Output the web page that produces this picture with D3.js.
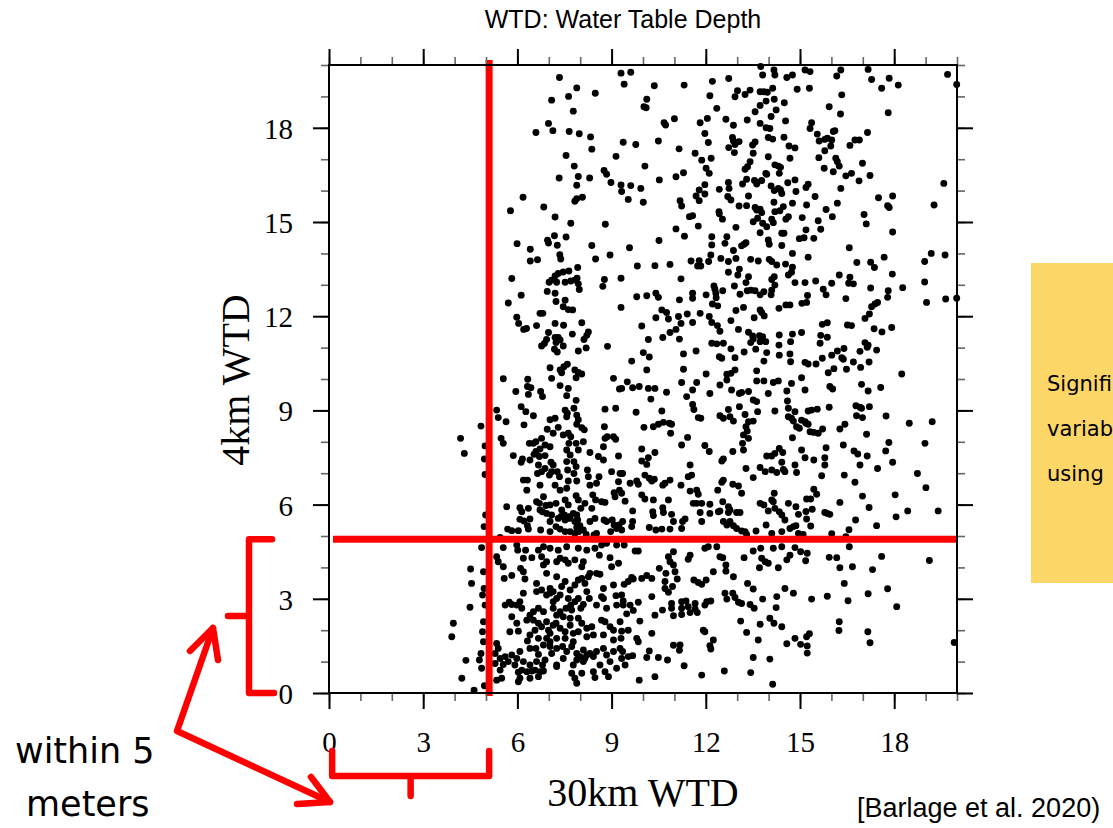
<!DOCTYPE html>
<html><head><meta charset="utf-8">
<script src="https://cdn.jsdelivr.net/npm/d3@7"></script>
<style>body{margin:0;background:#fff;overflow:hidden}svg{display:block}</style>
</head><body><svg id="c" width="1113" height="828"></svg>
<script>
// ---------------- data (30km WTD, 4km WTD) in metres ----------------
const majorTicks = [0, 3, 6, 9, 12, 15, 18];
const minorTicks = [0,1,2,3,4,5,6,7,8,9,10,11,12,13,14,15,16,17,18,19,20];
const cutoff30km = 5.1;
const cutoff4km = 4.9;
const bracketStart30km = 0.1;
const noteLines = ['Signifi', 'variab', 'using'];

const ptsUpperLeft = [[7.34,19.60],[7.89,19.27],[7.63,19.00],[7.09,18.88],[8.48,19.10],[7.78,18.53],[6.99,18.14],[6.59,17.85],[7.13,17.91],[7.65,17.88],[7.97,17.81],[8.33,17.71],[8.37,17.32],[7.55,17.12],[9.14,17.09],[7.81,16.78],[8.76,16.64],[8.84,16.52],[7.33,16.40],[7.94,16.45],[8.30,16.40],[7.89,16.17],[8.98,16.26],[8.07,15.79],[7.89,15.74],[7.83,15.66],[6.18,15.79],[5.78,15.36],[6.84,15.48],[7.20,15.16],[7.70,14.96],[8.80,14.93],[7.18,14.56],[6.96,14.42],[6.99,14.33],[7.55,14.52],[5.99,14.31],[7.27,14.26],[6.41,14.13],[8.37,14.25],[7.35,13.96],[7.38,13.82],[6.41,13.76],[6.64,13.80],[8.49,13.82],[8.95,13.95],[7.92,13.55],[7.30,13.36],[7.46,13.41],[7.64,13.44],[7.20,13.28],[7.09,13.15],[7.01,13.08],[7.25,13.08],[7.52,13.08],[7.70,13.12],[7.83,13.15],[7.90,13.21],[7.94,13.03],[7.97,12.85],[5.82,13.20],[8.77,13.17],[8.72,12.95],[6.12,12.67],[5.71,12.42],[6.95,12.79],[7.20,12.73],[7.52,12.51],[7.23,12.47],[7.46,12.30],[7.62,12.21],[7.76,12.20],[6.72,12.09],[6.81,12.09],[5.98,11.97],[6.04,11.77],[6.20,11.58],[6.29,11.61],[6.61,11.70],[7.20,11.77],[7.47,11.71],[8.05,11.79],[7.75,11.43],[6.99,11.48],[6.93,11.26],[7.20,11.32],[7.30,11.32],[7.36,11.24],[7.23,11.16],[6.77,11.05],[6.86,11.13],[7.46,11.05],[7.18,10.95],[7.27,10.86],[7.94,10.89],[8.19,10.99],[8.12,11.26],[8.21,11.39],[8.26,11.50],[8.87,11.04],[7.04,10.36],[7.36,10.29],[7.48,10.39],[7.59,10.47],[7.41,10.20],[7.83,10.29],[7.94,10.21],[8.05,10.16],[5.55,10.01],[6.33,9.99],[7.09,10.02],[7.87,10.04],[9.06,10.02]];

const ptsUpperMid = [[9.30,19.74],[9.61,19.77],[9.40,19.39],[10.36,19.34],[11.31,19.36],[12.21,19.48],[12.73,19.57],[13.75,19.95],[13.81,19.68],[14.17,19.84],[14.20,19.68],[14.58,19.60],[13.01,19.18],[12.93,18.99],[13.25,19.06],[13.41,19.20],[13.73,19.15],[13.85,19.15],[13.96,19.13],[14.13,19.26],[12.13,19.02],[10.12,18.91],[10.03,18.67],[10.10,18.64],[13.92,18.85],[14.18,18.91],[14.50,18.80],[13.73,18.71],[13.57,18.51],[14.24,18.57],[12.35,18.62],[10.67,18.16],[10.72,18.09],[11.00,18.29],[11.82,18.16],[12.05,18.30],[12.64,18.27],[12.88,18.08],[13.32,18.25],[13.73,18.14],[13.92,18.00],[14.04,17.98],[14.08,18.36],[14.54,18.22],[9.37,17.54],[9.77,17.47],[10.49,17.58],[11.15,17.33],[11.97,17.82],[12.08,17.53],[12.85,17.69],[12.88,17.58],[12.93,17.47],[13.06,17.56],[12.73,17.37],[12.91,17.21],[13.57,17.55],[13.99,17.69],[14.13,17.64],[14.49,17.70],[14.65,17.42],[11.66,17.19],[11.87,16.97],[12.17,17.03],[12.01,16.71],[12.11,16.55],[13.49,17.45],[13.51,17.19],[13.99,17.08],[13.41,16.92],[13.33,16.76],[13.25,16.68],[14.68,17.03],[14.20,16.82],[14.31,16.78],[14.38,16.74],[14.34,16.55],[13.91,16.55],[10.06,16.78],[10.52,16.34],[11.05,16.44],[11.29,16.57],[9.30,16.18],[9.32,15.97],[9.61,16.16],[9.93,16.07],[9.53,15.72],[10.01,15.63],[11.79,16.02],[11.69,15.83],[11.79,15.68],[11.97,15.89],[11.97,16.19],[12.43,16.04],[12.72,16.26],[12.74,16.07],[12.70,15.81],[12.80,15.70],[13.17,16.21],[13.30,16.36],[13.36,15.83],[13.62,16.21],[13.55,16.32],[13.64,16.26],[13.78,16.32],[13.94,16.52],[14.08,16.15],[14.18,16.00],[14.31,16.07],[14.38,16.02],[14.42,15.91],[14.61,16.25],[11.18,15.68],[11.23,15.51],[11.48,15.17],[11.58,15.20],[11.76,14.87],[12.42,15.33],[12.43,15.26],[12.53,15.09],[13.06,15.51],[13.30,15.52],[13.57,15.46],[13.62,15.38],[13.73,15.41],[13.78,15.30],[13.51,15.01],[13.65,15.12],[13.81,14.96],[13.94,14.85],[14.10,15.09],[14.15,14.98],[14.20,15.33],[14.36,15.36],[14.47,15.49],[14.55,15.09],[14.63,15.17],[14.17,15.63],[11.05,14.78],[11.32,14.55],[10.51,14.41],[9.57,14.18],[12.19,14.53],[12.19,14.27],[12.16,13.95],[12.61,14.32],[12.67,14.53],[12.88,14.09],[12.96,14.83],[13.22,14.29],[13.28,14.34],[13.14,14.24],[12.96,13.84],[13.73,14.66],[13.99,14.43],[14.02,14.29],[14.42,14.64],[14.49,14.64],[14.42,14.25],[9.82,13.60],[10.38,13.61],[10.86,13.65],[11.53,13.76],[11.79,13.77],[11.74,13.60],[11.84,13.60],[12.09,13.74],[12.48,13.84],[12.72,13.74],[13.07,13.50],[13.02,13.31],[12.72,13.40],[13.43,13.81],[13.67,13.76],[14.02,13.81],[14.10,13.74],[14.26,13.63],[14.54,13.66],[14.63,13.31],[9.30,13.21],[11.21,13.19],[13.36,13.26],[13.28,13.07],[12.91,12.96],[13.32,12.81],[13.44,12.83],[13.57,12.81],[13.73,12.68],[13.85,12.78],[14.08,12.68],[14.10,12.83],[14.20,12.99],[14.10,13.17],[14.18,13.26],[13.09,12.70],[9.80,12.62],[10.12,12.65],[10.41,12.73],[10.49,12.60],[11.16,12.52],[11.58,12.73],[11.58,12.57],[12.01,12.68],[12.26,12.96],[12.29,12.86],[12.32,12.73],[12.33,12.59],[12.54,12.81],[12.21,12.39],[12.38,12.33],[9.30,12.28],[10.60,12.20],[10.75,12.12],[10.81,11.91],[10.41,11.95],[11.13,11.99],[11.21,11.77],[11.41,12.07],[11.58,11.80],[11.82,12.09],[12.11,11.99],[12.19,11.80],[12.37,11.70],[12.45,11.52],[12.80,11.86],[12.96,12.18],[13.20,12.28],[13.54,11.95],[13.73,12.20],[13.78,12.12],[13.86,12.01],[14.33,12.25],[14.55,12.36],[14.68,12.36],[9.96,11.69],[10.17,11.26],[10.63,11.32],[10.86,11.48],[11.05,11.58],[11.16,11.27],[13.04,11.58],[13.36,11.49],[13.49,11.37],[13.51,11.27],[13.43,11.16],[13.71,11.38],[13.73,11.19],[13.81,11.35],[13.91,11.19],[14.34,11.40],[14.33,11.08],[14.70,11.19],[12.19,11.14],[12.35,11.12],[12.56,11.14],[12.80,10.96],[13.22,10.86],[13.59,10.95],[13.94,10.84],[14.34,10.76],[10.01,10.84],[10.20,10.70],[9.64,10.57],[11.29,10.80],[11.69,10.89],[12.43,10.71],[12.51,10.66],[12.93,10.68],[13.85,10.57],[14.70,10.55],[10.12,10.29],[11.29,10.31],[12.93,10.29],[13.62,10.26],[12.01,10.16],[12.67,10.15],[12.80,10.18]];

const ptsUpperRight = [[14.76,19.68],[15.16,19.84],[15.32,19.79],[14.91,19.23],[15.30,19.26],[16.17,19.65],[16.30,19.84],[17.17,19.86],[17.28,19.54],[17.84,19.58],[18.13,19.36],[17.60,19.26],[19.70,19.70],[19.99,19.38],[16.33,19.05],[15.93,18.67],[16.29,18.44],[17.81,18.48],[15.37,18.16],[15.32,17.98],[15.55,17.80],[15.61,17.58],[15.79,17.63],[15.87,17.67],[16.01,17.61],[15.98,17.42],[16.06,17.88],[16.11,17.91],[17.15,17.85],[15.79,17.27],[15.60,17.05],[14.84,17.36],[16.59,17.44],[16.75,17.61],[16.89,17.61],[16.14,17.03],[16.19,16.92],[16.25,16.78],[15.77,16.71],[16.06,16.60],[16.46,16.47],[16.64,16.55],[16.99,16.87],[16.88,16.31],[17.23,16.48],[16.30,16.07],[14.84,16.34],[15.19,16.10],[15.26,16.20],[14.87,15.97],[15.48,15.81],[15.83,15.40],[16.03,15.17],[16.19,15.60],[15.21,15.54],[14.76,15.60],[15.07,15.14],[15.58,15.04],[15.19,14.75],[15.66,14.77],[14.98,14.47],[15.13,14.50],[15.44,14.48],[17.50,15.77],[17.95,15.83],[17.79,15.52],[17.84,15.46],[17.04,15.24],[17.11,14.94],[17.95,14.68],[19.58,16.23],[19.27,15.54],[16.57,14.18],[14.76,14.00],[15.26,13.88],[14.76,13.56],[14.73,13.40],[14.84,13.07],[15.16,13.07],[15.50,13.12],[15.74,12.86],[15.83,12.68],[16.01,13.05],[16.25,13.31],[16.59,13.24],[16.55,13.05],[16.70,13.03],[16.81,13.71],[17.25,13.72],[17.37,13.55],[17.68,13.88],[17.94,13.34],[17.25,12.90],[17.81,12.81],[17.79,12.60],[18.27,12.91],[16.46,12.56],[15.24,12.66],[15.21,12.44],[15.06,12.41],[18.97,13.74],[19.18,14.00],[19.62,13.95],[18.97,13.09],[19.03,12.44],[19.64,12.55],[19.99,12.57],[17.28,12.30],[17.39,12.39],[17.47,12.44],[17.21,12.07],[17.07,11.93],[15.71,11.74],[15.87,11.79],[16.51,11.72],[16.64,11.70],[17.36,11.60],[17.61,11.50],[17.92,11.64],[14.76,11.43],[15.05,11.48],[15.66,11.39],[15.87,11.33],[15.64,11.14],[17.07,11.16],[17.17,11.08],[17.14,11.01],[16.91,10.88],[17.44,10.92],[14.68,10.80],[15.16,10.53],[15.26,10.48],[15.51,10.48],[15.71,10.66],[16.01,10.76],[16.19,10.89],[16.40,10.97],[16.33,10.68],[16.38,10.63],[16.70,10.54],[16.93,10.37],[17.20,10.54],[16.48,10.31],[16.08,10.33],[15.90,10.20],[18.24,10.16]];

const ptsLowerLeft = [[4.19,8.11],[4.31,7.63],[4.84,8.50],[4.97,7.87],[4.95,7.45],[4.97,6.96],[4.99,5.67],[4.94,5.30],[4.86,4.63],[4.51,3.95],[4.54,3.49],[4.49,2.73],[3.96,2.22],[3.91,1.79],[4.36,1.04],[4.23,0.47],[4.62,0.09],[4.92,3.86],[4.94,3.33],[4.89,3.12],[4.97,2.80],[4.92,2.27],[4.89,1.95],[4.92,1.63],[4.84,1.26],[4.79,1.05],[4.86,0.79],[4.95,0.23],
[6.32,9.76],[6.43,9.72],[7.36,9.79],[7.62,9.70],[5.95,9.60],[6.74,9.60],[6.35,9.51],[6.80,9.44],[7.57,9.47],[9.25,9.68],[7.87,9.32],[6.12,9.12],[5.34,9.01],[6.27,8.96],[6.51,8.83],[5.39,8.77],[5.64,8.64],[6.21,8.54],[7.04,8.70],[7.20,8.75],[7.52,9.01],[7.59,8.91],[7.80,9.07],[7.89,8.85],[7.94,8.70],[7.89,8.56],[7.57,8.80],[7.30,8.46],[6.95,8.40],[8.05,8.45],[8.13,8.38],[8.79,9.04],[8.77,8.48],[9.13,9.07],[5.48,8.11],[5.55,7.95],[6.38,7.95],[6.51,7.95],[6.59,8.00],[6.77,8.11],[6.88,7.90],[6.72,7.77],[6.59,7.69],[6.53,7.60],[5.87,7.56],[6.16,7.45],[6.12,7.35],[6.40,7.42],[6.70,7.53],[6.88,7.56],[7.04,7.84],[7.14,8.27],[7.46,8.22],[7.62,8.27],[7.70,8.16],[7.64,7.95],[7.57,7.74],[7.68,7.58],[7.87,7.95],[8.10,8.00],[7.94,7.74],[8.31,7.66],[8.58,7.53],[8.74,7.84],[8.86,8.16],[9.06,8.16],[9.13,8.08],[8.79,8.11],[8.74,7.42],[9.22,7.55],[6.67,7.26],[6.64,6.99],[6.77,7.05],[6.88,7.15],[7.07,7.35],[7.14,7.26],[7.09,7.05],[7.27,7.05],[7.34,6.89],[7.20,6.62],[7.02,6.94],[7.57,7.37],[7.60,7.10],[7.80,7.37],[7.87,7.21],[7.80,6.99],[7.89,6.75],[7.62,6.75],[7.57,6.52],[7.36,6.46],[6.72,6.62],[6.32,6.78],[6.19,6.78],[6.30,6.46],[8.23,7.10],[8.26,6.89],[8.52,6.68],[8.31,6.62],[8.60,6.89],[9.00,7.05],[9.27,6.99],[9.22,6.73],[9.25,6.46],[9.08,6.38],[9.11,6.25],[7.87,6.28],[7.94,6.15],[8.15,6.04],[8.40,6.31],[8.49,6.15],[8.68,6.09],[8.79,6.07],[6.61,6.09],[6.70,6.04],[6.83,6.25],[6.91,5.97],[7.04,5.99],[7.23,6.04],[7.52,6.15],[7.62,5.99],[7.41,5.83],[7.50,5.67],[7.68,5.62],[7.78,5.72],[7.89,5.67],[8.02,5.88],[8.37,5.88],[6.08,5.90],[6.14,5.77],[6.35,5.88],[6.21,5.48],[6.08,5.53],[6.40,5.54],[6.32,5.33],[5.66,5.93],[6.72,5.83],[6.80,5.77],[6.93,5.72],[7.09,5.67],[7.04,5.46],[7.30,5.56],[7.39,5.62],[7.52,5.51],[7.65,5.56],[7.83,5.46],[7.92,5.51],[7.89,5.27],[7.99,5.33],[8.31,5.46],[8.47,5.56],[8.76,5.51],[8.84,5.46],[9.02,5.51],[9.08,5.35],[9.16,5.24],[9.24,5.35],[9.35,5.46],[5.69,5.22],[5.82,5.17],[6.03,5.17],[6.35,5.22],[6.74,5.19],[7.04,5.14],[7.23,5.30],[7.36,5.22],[7.52,5.14],[7.68,5.14],[7.83,5.08],[7.96,5.14],[8.10,5.19],[8.19,5.05],[8.44,5.03],[8.52,5.08],[8.97,5.14],
[5.45,4.95],[5.55,4.63],[6.01,4.55],[5.98,4.71],[6.26,4.55],[6.67,4.55],[6.83,4.66],[7.04,4.61],[7.30,4.55],[7.57,4.66],[7.94,4.61],[8.21,4.55],[8.47,4.61],[8.68,4.71],[8.84,4.77],[9.16,4.71],[5.34,4.34],[5.39,4.18],[5.55,4.02],[6.19,4.29],[6.46,4.31],[6.77,4.34],[6.93,4.18],[7.25,4.18],[7.36,4.29],[7.52,4.24],[7.62,4.13],[7.83,4.24],[8.10,4.18],[8.05,4.02],[8.61,4.39],[8.95,4.31],[9.00,4.02],[9.22,4.13],[5.58,3.65],[5.82,3.74],[6.10,3.97],[6.19,3.86],[6.24,3.63],[6.61,3.49],[6.83,4.08],[6.93,3.81],[7.25,3.70],[7.04,3.33],[7.14,3.23],[7.36,3.12],[7.41,3.39],[7.52,3.55],[7.68,3.28],[7.83,3.44],[7.94,3.60],[8.05,3.65],[8.15,3.49],[8.26,3.70],[8.31,3.81],[8.52,3.81],[8.63,3.78],[8.74,3.33],[9.06,3.44],[9.14,3.10],[8.68,3.07],[5.98,2.80],[6.08,2.91],[6.14,2.70],[5.82,2.82],[5.61,2.80],[5.74,2.89],[6.19,3.18],[6.61,3.23],[6.77,3.28],[6.93,3.12],[7.04,3.18],[7.14,2.91],[7.25,3.01],[7.62,3.01],[7.70,2.80],[7.55,2.70],[7.73,2.64],[7.83,2.91],[7.94,3.01],[8.02,2.70],[8.10,2.82],[8.21,3.23],[8.29,3.01],[8.52,2.80],[8.74,3.01],[8.84,2.70],[9.16,2.80],[9.37,2.80],[6.67,2.70],[6.51,2.59],[6.40,2.48],[6.83,2.59],[7.14,2.70],[7.25,2.48],[7.36,2.59],[7.46,2.43],[7.68,2.38],[7.94,2.38],[5.82,2.43],[5.98,2.22],[5.76,1.95],[6.03,1.97],[6.30,2.32],[6.51,2.32],[6.67,2.22],[6.56,2.00],[6.77,2.11],[6.93,2.27],[6.99,2.00],[7.04,1.90],[7.14,2.16],[7.23,2.22],[7.36,2.06],[7.52,1.95],[7.68,2.16],[7.78,1.90],[7.94,1.95],[8.05,2.22],[8.21,2.06],[8.37,2.11],[8.68,2.32],[8.79,2.27],[8.95,2.11],[9.06,2.00],[9.27,2.27],[6.40,1.85],[6.67,1.74],[6.93,1.74],[7.04,1.63],[7.25,1.74],[7.52,1.74],[7.78,1.63],[8.21,1.79],[8.42,1.85],[8.74,1.85],[9.06,1.69],[9.30,1.74],[5.34,1.58],[5.39,1.42],[5.29,1.26],[5.45,1.10],[5.61,1.16],[5.82,1.21],[5.98,1.10],[6.08,1.32],[6.32,1.66],[6.40,1.42],[6.59,1.42],[6.67,1.23],[6.83,1.53],[7.04,1.48],[7.09,1.26],[7.25,1.42],[7.44,1.48],[7.57,1.32],[7.73,1.48],[7.89,1.26],[8.10,1.37],[7.99,1.16],[8.21,1.21],[8.31,1.26],[8.52,1.32],[8.74,1.42],[8.84,1.21],[9.06,1.32],[9.27,1.42],[5.29,0.94],[5.55,0.91],[5.71,1.00],[5.92,0.89],[6.19,1.00],[6.40,0.89],[6.61,1.00],[6.80,0.89],[6.88,1.05],[7.25,0.89],[7.46,1.10],[7.78,0.89],[7.89,1.05],[8.10,1.00],[8.15,1.10],[8.42,1.16],[8.63,0.89],[8.95,1.00],[9.16,0.79],[5.45,0.73],[5.50,0.47],[5.34,0.41],[6.03,0.66],[6.14,0.73],[6.30,0.68],[6.46,0.70],[6.56,0.73],[6.72,0.68],[6.83,0.70],[6.40,0.47],[6.67,0.52],[6.08,0.47],[6.03,0.36],[7.73,0.63],[7.83,0.47],[7.89,0.31],[8.05,0.63],[8.42,0.68],[8.79,0.68],[8.90,0.52],[8.47,0.49],[7.25,0.84]];

const ptsLowerMid = [[9.50,9.91],[9.32,9.70],[9.67,9.72],[9.88,9.76],[10.17,9.70],[10.38,9.70],[10.75,9.58],[11.23,9.89],[11.58,9.65],[11.71,9.89],[12.13,9.54],[11.39,9.44],[12.45,9.81],[12.67,9.97],[12.82,9.65],[13.07,9.54],[13.14,9.57],[13.36,9.60],[13.62,9.94],[13.85,9.94],[13.99,9.54],[14.15,9.89],[14.31,9.94],[14.58,9.62],[14.60,9.30],[10.25,9.36],[9.78,8.94],[10.60,8.98],[11.58,9.19],[11.62,9.03],[11.76,8.77],[11.84,8.75],[12.45,8.83],[12.56,8.75],[12.77,8.80],[12.88,8.66],[12.72,9.03],[13.07,9.12],[13.25,8.87],[13.36,8.64],[13.51,8.66],[13.51,9.33],[13.62,9.28],[13.65,8.96],[13.28,8.48],[13.32,8.34],[13.20,8.22],[13.36,8.11],[13.17,7.95],[13.20,7.74],[14.20,8.98],[14.63,9.07],[14.63,8.80],[10.03,8.46],[10.33,8.48],[10.49,8.56],[10.65,8.62],[10.84,8.59],[10.91,8.56],[10.88,8.27],[11.42,8.14],[11.23,7.90],[11.97,7.88],[12.11,7.69],[12.86,7.69],[12.56,7.45],[12.51,7.39],[13.94,7.55],[14.10,7.55],[14.20,7.63],[14.34,7.79],[14.45,7.66],[14.42,7.35],[14.52,7.05],[14.47,7.12],[13.73,7.18],[13.89,7.05],[14.10,7.10],[14.26,7.02],[13.51,6.86],[13.28,7.15],[9.96,7.77],[10.17,7.49],[10.38,7.66],[9.96,7.39],[10.12,7.28],[11.50,7.26],[11.55,6.94],[11.44,6.89],[9.35,6.99],[9.59,6.68],[9.80,6.75],[9.85,6.65],[10.06,6.94],[10.20,6.84],[10.28,6.75],[10.36,6.81],[10.63,6.62],[10.70,6.68],[10.86,6.78],[11.21,6.62],[11.50,6.43],[11.71,6.46],[11.76,6.33],[12.38,6.46],[12.51,6.71],[12.56,6.78],[12.86,6.65],[13.04,6.59],[13.14,6.36],[9.32,6.36],[9.43,6.11],[9.96,6.31],[10.06,6.18],[10.33,6.15],[10.81,6.15],[11.60,6.04],[11.71,6.04],[11.87,6.04],[11.82,5.75],[12.13,6.01],[12.13,5.72],[12.45,5.80],[12.54,6.09],[12.72,5.93],[12.72,5.75],[12.77,5.83],[12.98,5.75],[13.09,5.75],[12.77,5.46],[12.67,5.35],[12.56,5.46],[12.88,5.33],[12.98,5.24],[13.14,5.16],[13.25,5.14],[12.40,5.77],[11.87,5.46],[13.73,6.04],[13.85,5.99],[13.99,5.80],[14.10,6.15],[14.15,6.09],[14.18,6.36],[14.20,5.88],[14.34,5.77],[14.42,5.67],[14.52,5.51],[14.63,6.04],[9.67,5.80],[9.67,5.46],[9.64,5.30],[10.31,5.77],[10.33,5.65],[10.63,5.90],[10.65,5.75],[10.91,5.69],[10.97,5.46],[11.26,5.46],[11.23,5.24],[11.34,5.54],[10.86,5.22],[10.60,5.22],[10.41,5.19],[10.20,5.27],[9.32,5.19],[13.60,5.16],[13.92,5.35],[14.10,5.08],[14.42,5.14],[13.30,5.05],
[9.40,4.71],[9.75,4.52],[9.85,4.52],[10.97,4.50],[11.50,4.39],[11.44,4.26],[10.81,4.34],[10.86,4.18],[10.97,4.08],[11.02,3.86],[10.73,3.81],[10.52,3.97],[11.97,4.61],[12.08,4.66],[12.35,4.66],[12.45,4.34],[12.54,4.31],[12.64,4.08],[12.64,3.88],[12.24,3.86],[13.51,4.52],[13.75,4.61],[13.78,4.29],[13.89,4.18],[13.99,4.13],[13.71,3.99],[14.15,4.61],[14.42,4.66],[14.68,4.39],[14.58,4.24],[14.31,3.99],[13.22,4.31],[12.88,3.70],[13.33,3.49],[13.51,3.31],[9.64,3.68],[9.69,3.63],[9.53,3.55],[9.96,3.65],[10.12,3.74],[10.28,3.65],[10.70,3.55],[10.70,3.33],[10.81,3.21],[10.94,3.39],[11.09,3.63],[11.62,3.60],[11.76,3.52],[11.87,3.46],[12.01,3.60],[14.52,3.33],[14.79,3.18],[9.40,3.46],[9.32,3.12],[9.37,2.93],[9.59,2.80],[9.85,2.89],[9.48,2.52],[9.69,2.63],[10.28,3.07],[10.62,2.64],[10.38,2.48],[10.91,2.85],[10.91,2.70],[10.97,2.46],[11.23,2.91],[11.23,2.70],[11.23,2.50],[11.37,2.93],[11.44,2.75],[11.50,2.56],[11.66,2.85],[11.66,2.68],[11.73,2.56],[11.97,2.80],[12.03,2.91],[12.16,2.93],[12.61,3.18],[12.67,2.99],[12.86,3.18],[12.93,3.04],[13.04,2.89],[13.14,2.85],[13.41,2.82],[13.54,2.70],[13.81,2.99],[14.26,3.07],[14.24,2.72],[9.90,2.29],[9.32,1.97],[9.53,2.00],[9.80,1.74],[9.85,1.63],[10.28,1.90],[10.97,1.52],[11.18,1.53],[11.16,1.36],[11.92,2.00],[11.97,1.95],[12.24,1.69],[12.13,1.51],[12.16,1.40],[13.11,2.29],[13.30,1.93],[13.73,2.19],[14.04,2.38],[14.17,2.22],[14.42,2.11],[13.67,1.69],[14.58,1.57],[9.35,1.32],[9.32,1.10],[9.53,1.16],[9.67,1.19],[9.43,0.89],[10.12,1.13],[10.20,1.34],[10.49,1.13],[10.78,1.05],[11.31,0.87],[13.51,1.13],[14.04,1.08],[9.88,0.41],[10.38,0.52],[11.87,0.57],[12.59,0.70],[13.43,0.65],[14.13,0.28]];

const ptsLowerRight = [[15.05,10.04],[14.73,9.86],[15.16,9.65],[15.95,9.76],[16.04,9.68],[16.96,9.83],[17.17,9.62],[17.57,9.73],[14.84,8.96],[15.26,8.98],[15.37,9.01],[15.55,9.04],[15.93,9.10],[16.78,9.15],[16.91,9.10],[16.96,9.07],[17.21,9.12],[16.80,8.83],[16.99,8.77],[17.74,8.82],[18.48,8.59],[19.21,8.64],[14.73,8.75],[14.79,8.66],[15.05,8.69],[15.16,8.64],[15.19,8.59],[14.89,8.48],[14.98,8.43],[15.26,8.56],[15.32,8.32],[15.44,8.30],[15.58,8.27],[15.72,8.41],[16.27,8.41],[16.43,8.56],[17.12,8.24],[14.76,8.13],[15.05,7.74],[15.16,7.49],[15.44,7.42],[15.79,7.49],[15.83,7.81],[15.79,7.26],[16.38,7.90],[16.72,7.71],[16.84,7.61],[17.14,7.55],[16.91,7.26],[17.47,7.15],[17.73,7.71],[17.83,7.98],[17.95,7.35],[18.98,7.95],[14.84,7.26],[14.89,7.02],[15.69,6.92],[16.41,6.94],[16.75,6.71],[18.74,6.99],[19.01,6.54],[16.99,6.27],[18.03,6.31],[15.44,6.49],[15.53,6.33],[15.21,6.18],[15.34,6.18],[14.87,5.93],[14.95,5.69],[15.19,5.78],[15.21,5.54],[15.39,5.85],[15.79,5.75],[15.87,5.72],[15.95,5.69],[16.27,6.07],[16.77,5.51],[17.20,5.91],[17.44,5.33],[18.06,5.61],[18.43,5.80],[19.40,5.80],[14.68,5.24],[14.79,5.30],[14.87,5.33],[14.95,5.08],[15.34,5.32],[16.01,5.07],[16.56,5.20],[16.46,4.98],[15.10,5.05],
[14.84,4.63],[15.02,4.50],[15.23,4.45],[15.18,4.21],[15.93,4.32],[16.17,4.31],[16.57,4.66],[16.27,3.99],[16.67,4.02],[17.31,3.93],[17.60,4.35],[19.12,4.22],[16.41,3.49],[17.17,3.16],[17.79,3.32],[15.37,2.99],[15.87,3.08],[16.53,2.94],[18.08,2.75],[16.25,2.27],[16.24,1.99],[17.16,1.95],[17.23,1.60],[14.84,1.74],[15.02,1.55],[15.21,1.79],[15.30,1.89],[15.23,1.50],[15.23,1.27],[19.91,1.61]];

const allPoints = [].concat(ptsUpperLeft, ptsUpperMid, ptsUpperRight, ptsLowerLeft, ptsLowerMid, ptsLowerRight);

// ---------------- drawing ----------------
const svg = d3.select('#c');
svg.append('rect').attr('width',1113).attr('height',828).attr('fill','#fff');

const x = d3.scaleLinear().domain([0,20]).range([329,957]);
const y = d3.scaleLinear().domain([0,20]).range([693,65]);
const serif = '"Liberation Serif","Times New Roman",serif';
const sans = '"Liberation Sans",Arial,sans-serif';

// points
svg.append('g').selectAll('circle').data(allPoints).join('circle')
  .attr('cx', d => x(d[0])).attr('cy', d => y(d[1])).attr('r', 3.45).attr('fill','#000');

// red cut-off lines
svg.append('line').attr('x1', x(cutoff30km)).attr('x2', x(cutoff30km))
  .attr('y1', y(20)-5).attr('y2', y(0)+3)
  .attr('stroke','#ff0000').attr('stroke-width',7);
svg.append('line').attr('x1', x(0)+4).attr('x2', x(20))
  .attr('y1', y(cutoff4km)).attr('y2', y(cutoff4km))
  .attr('stroke','#ff0000').attr('stroke-width',7);

// axes: major + minor ticks on all four sides
function styleAxis(g, minor){
  g.select('.domain').remove();
  g.selectAll('.tick line').attr('stroke', minor ? '#666' : '#000').attr('stroke-width', minor ? 1.6 : 2);
}
const fmt = d3.format('d');
svg.append('g').attr('transform','translate(0,693)')
  .call(d3.axisBottom(x).tickValues(minorTicks).tickSize(8).tickFormat(''))
  .call(g=>styleAxis(g,true));
svg.append('g').attr('transform','translate(0,693)')
  .call(d3.axisBottom(x).tickValues(majorTicks).tickSize(16).tickPadding(22).tickFormat(fmt))
  .call(g=>styleAxis(g,false))
  .call(g=>g.selectAll('text').attr('font-family',serif).attr('font-size',29).attr('fill','#000'));
svg.append('g').attr('transform','translate(0,65)')
  .call(d3.axisTop(x).tickValues(minorTicks).tickSize(8).tickFormat(''))
  .call(g=>styleAxis(g,true));
svg.append('g').attr('transform','translate(0,65)')
  .call(d3.axisTop(x).tickValues(majorTicks).tickSize(16).tickFormat(''))
  .call(g=>styleAxis(g,false));
svg.append('g').attr('transform','translate(329,0)')
  .call(d3.axisLeft(y).tickValues(minorTicks).tickSize(8).tickFormat(''))
  .call(g=>styleAxis(g,true));
svg.append('g').attr('transform','translate(329,0)')
  .call(d3.axisLeft(y).tickValues(majorTicks).tickSize(16).tickPadding(20).tickFormat(fmt))
  .call(g=>styleAxis(g,false))
  .call(g=>g.selectAll('text').attr('font-family',serif).attr('font-size',29).attr('fill','#000').attr('dy','0.36em'));
svg.append('g').attr('transform','translate(957,0)')
  .call(d3.axisRight(y).tickValues(minorTicks).tickSize(8).tickFormat(''))
  .call(g=>styleAxis(g,true));
svg.append('g').attr('transform','translate(957,0)')
  .call(d3.axisRight(y).tickValues(majorTicks).tickSize(16).tickFormat(''))
  .call(g=>styleAxis(g,false));

// frame
svg.append('rect').attr('x', x(0)).attr('y', y(20)).attr('width', x(20)-x(0)).attr('height', y(0)-y(20))
  .attr('fill','none').attr('stroke','#000').attr('stroke-width',2);

// titles
svg.append('text').attr('x',623).attr('y',28).attr('text-anchor','middle')
  .attr('font-family',sans).attr('font-size',25).text('WTD: Water Table Depth');
svg.append('text').attr('x',643).attr('y',806).attr('text-anchor','middle')
  .attr('font-family',serif).attr('font-size',40).text('30km WTD');
svg.append('text').attr('transform','translate(249,380) rotate(-90)').attr('text-anchor','middle')
  .attr('font-family',serif).attr('font-size',40).text('4km WTD');
svg.append('text').attr('x',857).attr('y',817)
  .attr('font-family',sans).attr('font-size',27).text('[Barlage et al. 2020)');

// red annotations: braces and arrows
const red = svg.append('g').attr('fill','none').attr('stroke','#ff0000').attr('stroke-width',6.5)
  .attr('stroke-linecap','round').attr('stroke-linejoin','round');
const yTop = y(cutoff4km), yBot = y(0), yMid = (yTop + yBot) / 2;
red.append('path').attr('d', `M272,${yTop} L249,${yTop} L249,${yBot} L274,${yBot} M249,${yMid} L228,${yMid}`);
const xL = x(bracketStart30km), xR = x(cutoff30km), xM = (xL + xR) / 2;
red.append('path').attr('d', `M${xL},751 L${xL},776 L${xR},776 L${xR},751 M${xM},776 L${xM},796`);
red.append('path').attr('d', 'M213,628 L177,731 L330,802');
red.append('path').attr('d', 'M190,651 L213,628 L218,660');
red.append('path').attr('d', 'M297,804 L330,802 L311,777');

// left annotation text
const gothic = '"DejaVu Sans","Noto Sans",sans-serif';
svg.append('text').attr('x',15).attr('y',763).attr('font-family',gothic).attr('font-size',35).attr('fill','#000').text('within 5');
svg.append('text').attr('x',26).attr('y',816).attr('font-family',gothic).attr('font-size',35).attr('fill','#000').text('meters');

// yellow note box (cut by the page edge)
svg.append('rect').attr('x',1031).attr('y',263).attr('width',100).attr('height',320).attr('fill','#fcd667');
noteLines.forEach((t,i)=>{
  svg.append('text').attr('x',1047).attr('y',391 + i*45).attr('font-family',gothic).attr('font-size',21).attr('fill','#000').text(t);
});
</script>
</body></html>
